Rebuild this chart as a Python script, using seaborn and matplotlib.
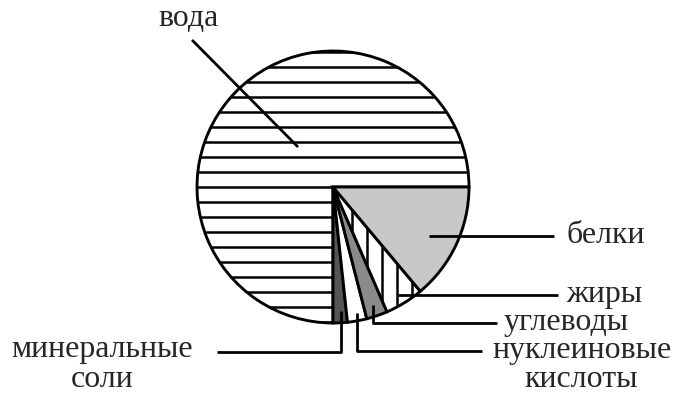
import matplotlib
matplotlib.use("Agg")
import matplotlib.pyplot as plt
import seaborn as sns

# Composition of a living cell (percent of mass)
components = ["вода", "минеральные соли", "нуклеиновые кислоты", "углеводы", "жиры", "белки"]
shares = [75.0, 1.7, 2.3, 2.5, 4.6, 13.9]
fills = ["white", "#555555", "white", "#8a8a8a", "white", "#c8c8c8"]
hatches = ["-", "", "", "", "|", ""]

sns.set_theme(style="white")
plt.rcParams["font.family"] = ["Liberation Serif", "DejaVu Serif"]
plt.rcParams["hatch.linewidth"] = 2.0
plt.rcParams["hatch.color"] = "black"

DPI = 90
W, H = 675, 394
fig = plt.figure(figsize=(W / DPI, H / DPI), dpi=DPI)
ax = fig.add_axes([0, 0, 1, 1])

cx, cy, r = 333, 187, 136
ax.pie(shares, colors=fills, hatch=hatches, startangle=0, counterclock=False,
       center=(cx, cy), radius=r,
       wedgeprops=dict(edgecolor="black", linewidth=2.3))

ax.set_xlim(0, W)
ax.set_ylim(H, 0)
ax.set_aspect("equal")
ax.axis("off")

lw = 2.2
fs = 25.5
line_kw = dict(color="black", lw=lw, solid_capstyle="butt")

# вода
ax.plot([192, 298], [40, 147], **line_kw)
ax.text(189, 26, "вода", fontsize=fs, ha="center", va="baseline")

# белки
ax.plot([429, 554], [236, 236], **line_kw)
ax.text(566, 243, "белки", fontsize=fs, ha="left", va="baseline")

# жиры
ax.plot([398, 558], [295, 295], **line_kw)
ax.text(566, 302, "жиры", fontsize=fs, ha="left", va="baseline")

# углеводы
ax.plot([373, 373, 497], [305, 322.5, 322.5], **line_kw)
ax.text(504, 329.5, "углеводы", fontsize=fs, ha="left", va="baseline")

# нуклеиновые кислоты
ax.plot([357, 357, 482], [313, 351, 351], **line_kw)
ax.text(582, 358, "нуклеиновые", fontsize=fs, ha="center", va="baseline")
ax.text(581, 387, "кислоты", fontsize=fs, ha="center", va="baseline")

# минеральные соли
ax.plot([341, 341, 217], [311, 352, 352], **line_kw)
ax.text(102, 357, "минеральные", fontsize=fs, ha="center", va="baseline")
ax.text(102, 387, "соли", fontsize=fs, ha="center", va="baseline")

fig.savefig("out.png", dpi=DPI)
